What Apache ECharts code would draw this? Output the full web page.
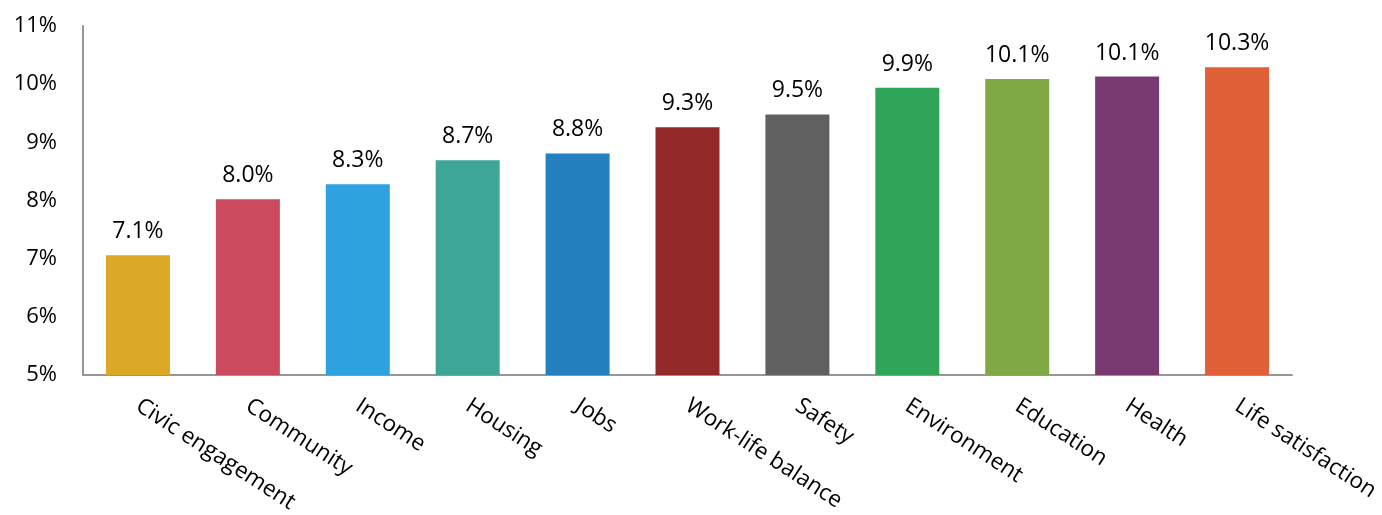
<!DOCTYPE html>
<html>
<head>
<meta charset="utf-8">
<script src="https://cdn.jsdelivr.net/npm/echarts@6/dist/echarts.min.js"></script>
<style>
  html, body { margin: 0; padding: 0; background: #ffffff; }
  #chart { width: 1382px; height: 515px; }
</style>
</head>
<body>
<div id="chart"></div>
<script>
const categories = ['Civic engagement', 'Community', 'Income', 'Housing', 'Jobs', 'Work-life balance', 'Safety', 'Environment', 'Education', 'Health', 'Life satisfaction'];
const values = [7.06, 8.02, 8.28, 8.69, 8.81, 9.26, 9.48, 9.94, 10.09, 10.13, 10.29];
const barColors = ['#DAA824', '#CC4A5E', '#2EA1DF', '#3EA697', '#2580BF', '#932A2A', '#606060', '#2FA55A', '#7EA944', '#793971', '#E06137'];
const yTicks = [5, 6, 7, 8, 9, 10, 11];

const FONT = '"Open Sans", "Noto Sans", sans-serif';
const chart = echarts.init(document.getElementById('chart'), null, { renderer: 'canvas' });
chart.setOption({
  animation: false,
  backgroundColor: '#ffffff',
  grid: { left: 83, right: 90, top: 26, bottom: 140, containLabel: false, outerBoundsMode: 'none' },
  xAxis: {
    type: 'category',
    data: categories,
    axisLine: { show: true, lineStyle: { color: '#969696', width: 2 } },
    axisTick: { show: false },
    axisLabel: {
      rotate: -33,
      margin: 29,
      interval: 0,
      color: '#000000',
      fontFamily: FONT,
      fontSize: 22.5
    }
  },
  yAxis: {
    type: 'value',
    min: yTicks[0],
    max: yTicks[yTicks.length - 1],
    interval: 1,
    splitLine: { show: false },
    axisLine: { show: true, lineStyle: { color: '#969696', width: 2 } },
    axisTick: { show: false },
    axisLabel: {
      margin: 26,
      color: '#000000',
      fontFamily: FONT,
      fontSize: 22,
      formatter: v => v + '%'
    }
  },
  series: [{
    type: 'bar',
    data: values.map((v, i) => ({ value: v, itemStyle: { color: barColors[i] } })),
    barWidth: 64,
    label: {
      show: true,
      position: 'top',
      distance: 12,
      color: '#000000',
      fontFamily: FONT,
      fontSize: 23,
      formatter: p => p.value.toFixed(1) + '%'
    }
  }]
});
</script>
</body>
</html>
